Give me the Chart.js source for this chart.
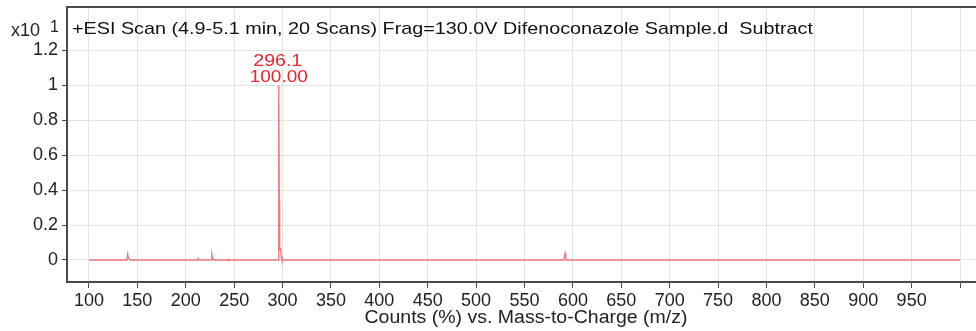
<!DOCTYPE html>
<html>
<head>
<meta charset="utf-8">
<script src="https://cdn.jsdelivr.net/npm/chart.js@4/dist/chart.umd.min.js"></script>
<style>
  html, body { margin: 0; padding: 0; background: #fff; overflow: hidden; }
  #spec { display: block; }
</style>
</head>
<body>
<canvas id="spec" width="976" height="331"></canvas>
<script>
// spectrum profile (m/z vs counts, x10^1)
const mzValues = [100, 139.2, 140, 140.6, 141.4, 142.5, 212.3, 213, 213.8, 226.2, 227, 227.8, 228.6, 229.6,
  243.5, 244, 244.5, 295.4, 296.1, 296.6, 297, 297.4, 297.9, 298.6, 299.4,
  590.6, 591.4, 592, 592.6, 593.4, 1000];
const countValues = [0, 0, 0.032, 0.012, 0.008, 0, 0, 0.008, 0, 0, 0.032, 0.012, 0.005, 0,
  0, 0.004, 0, 0, 1.0, 0.34, 0.08, 0.06, 0.07, 0.02, 0,
  0, 0.025, 0.038, 0.015, 0, 0];

const xTickValues = [100, 150, 200, 250, 300, 350, 400, 450, 500, 550, 600, 650, 700, 750, 800, 850, 900, 950, 1000];
const yTickValues = [0, 0.2, 0.4, 0.6, 0.8, 1.0, 1.2];

const peakLabel = { mz: 296.1, value: 1.0, text: ['296.1', '100.00'] };
const scanTitle = '+ESI Scan (4.9-5.1 min, 20 Scans) Frag=130.0V Difenoconazole Sample.d  Subtract';
const axisTitle = 'Counts (%) vs. Mass-to-Charge (m/z)';

const FONT = '"Liberation Sans", Arial, sans-serif';
const FRAME = '#4a4a4a';

// draws text stretched horizontally so that it fills the given width
function wideText(ctx, text, x, y, width, align) {
  const w = ctx.measureText(text).width;
  const k = width / w;
  ctx.save();
  ctx.translate(x, y);
  ctx.scale(k, 1);
  ctx.textAlign = align;
  ctx.fillText(text, 0, 0);
  ctx.restore();
}

const framePlugin = {
  id: 'frame',
  afterDraw(chart) {
    const { ctx, chartArea: a, scales } = chart;
    ctx.save();
    // top frame line
    ctx.strokeStyle = FRAME;
    ctx.lineWidth = 2;
    ctx.beginPath();
    ctx.moveTo(a.left - 1, a.top);
    ctx.lineTo(a.right, a.top);
    ctx.stroke();

    ctx.textBaseline = 'alphabetic';

    // scan title inside plot
    ctx.fillStyle = '#111';
    ctx.font = '17px ' + FONT;
    wideText(ctx, scanTitle, a.left + 5, 34, 741, 'left');

    // x axis title
    ctx.fillStyle = '#222';
    ctx.font = '18px ' + FONT;
    wideText(ctx, axisTitle, 526, 323, 323, 'center');

    // y multiplier
    ctx.font = '18px ' + FONT;
    ctx.textAlign = 'left';
    ctx.fillText('x10', 11, 36);
    ctx.font = '16px ' + FONT;
    ctx.fillText('1', 50, 32);

    // peak annotation
    const px = scales.x.getPixelForValue(peakLabel.mz);
    ctx.fillStyle = '#e8262d';
    ctx.font = '17px ' + FONT;
    wideText(ctx, peakLabel.text[0], px - 1, 66, 49, 'center');
    wideText(ctx, peakLabel.text[1], px, 82, 58, 'center');
    ctx.restore();
  }
};

new Chart(document.getElementById('spec').getContext('2d'), {
  type: 'line',
  data: {
    datasets: [{
      data: mzValues.map((m, i) => ({ x: m, y: countValues[i] })),
      borderColor: 'rgba(234, 96, 104, 0.85)',
      borderWidth: 1.4,
      pointRadius: 0,
      tension: 0,
      fill: false,
    }],
  },
  options: {
    responsive: false,
    animation: false,
    layout: { padding: { top: 7, left: 0, right: 0, bottom: 0 } },
    plugins: { legend: { display: false }, tooltip: { enabled: false } },
    scales: {
      x: {
        type: 'linear',
        min: 77.3,
        max: 1016.5,
        afterBuildTicks: (s) => { s.ticks = xTickValues.map((v) => ({ value: v })); },
        afterFit: (s) => { s.height = 49; s.paddingLeft = 0; s.paddingRight = 0; },
        ticks: {
          color: '#222',
          font: { family: FONT, size: 18 },
          padding: 2,
          maxRotation: 0,
          autoSkip: false,
          callback: (v) => (v >= 1000 ? '' : String(v)),
        },
        grid: { color: '#e3e3e3', tickColor: FRAME, tickLength: 6, lineWidth: 1 },
        border: { color: FRAME, width: 2 },
      },
      y: {
        type: 'linear',
        min: -0.126,
        max: 1.448,
        afterBuildTicks: (s) => { s.ticks = yTickValues.map((v) => ({ value: v })); },
        afterFit: (s) => { s.width = 67; s.paddingTop = 0; s.paddingBottom = 0; },
        ticks: {
          color: '#222',
          font: { family: FONT, size: 18 },
          padding: 4,
          callback: (v) => String(+v.toFixed(1)),
        },
        grid: { color: '#e3e3e3', tickColor: FRAME, tickLength: 5, lineWidth: 1 },
        border: { color: FRAME, width: 2 },
      },
    },
  },
  plugins: [framePlugin],
});
</script>
</body>
</html>
